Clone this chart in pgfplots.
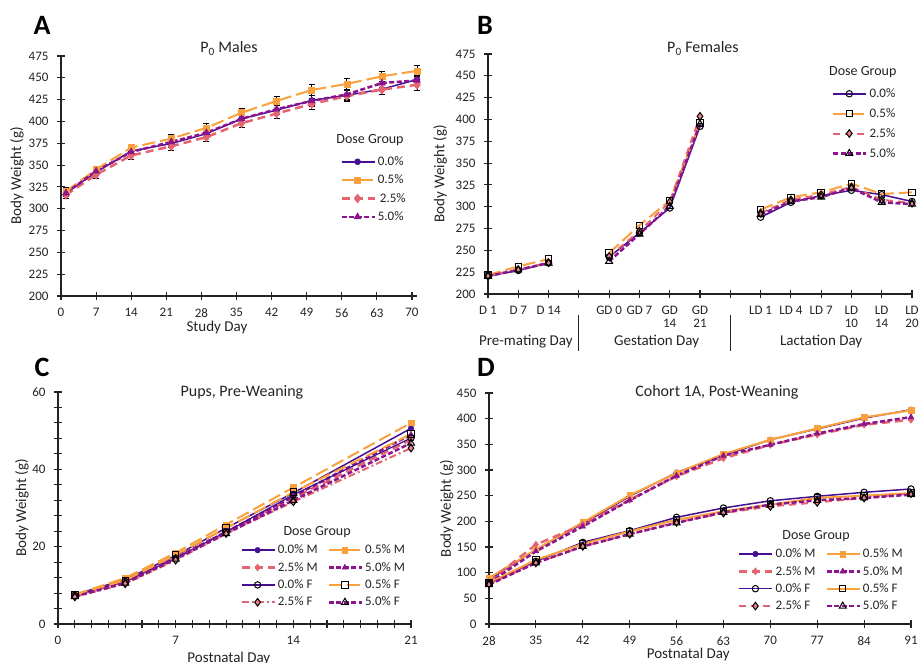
\documentclass[border=0pt]{standalone}
\usepackage{fontspec}
\setmainfont{Carlito}
\usepackage{pgfplots}
\usepackage{pgfplotstable}
\pgfplotsset{compat=1.18}

\definecolor{c0}{RGB}{70,15,145}
\definecolor{c1}{RGB}{250,160,60}
\definecolor{c2}{RGB}{228,100,112}
\definecolor{c3}{RGB}{140,20,140}
\definecolor{ax}{RGB}{35,35,35}

\pgfplotstableread{
x y0 e0 y1 e1 y2 e2 y3 e3
1 318 4 320 4 316 4 318 4
7 342 4 345 4 339 4 343 4
14 366 4 370 4 361 4 365 4
22 374.7 5 380.4 5 371.6 5 376.6 5
29 386 5 392.6 5 382 5 387 5
36 403 5 410 5 398 5 403 5
43 413 5 423.5 5 409 5 414 5
50 424 6 436 6 420 6 423.5 6
57 430 6 443 6 429 6 431 6
64 437 6 451.7 6 436.5 6 444 6
71 448 6 458 6 442 6 447 6
}\tabA

\pgfplotstableread{
x y0 y1 y2 y3
0 220.5 221.7 221 220.5
1 227 231.7 228 227.5
2 235.5 240 236 235.5
3 nan nan nan nan
4 242.4 247 243 237.4
5 270 278.7 272 268.7
6 298.5 307 305.4 300.4
7 392 396 403.6 394.8
8 nan nan nan nan
9 288 296.6 292.8 291
10 305 310.8 308 306
11 312.7 316.5 313.8 311
12 318.8 326.4 322.6 321.4
13 313.8 314.6 308 305
14 306 316.5 304 303
}\tabB

\pgfplotstableread{
x m0 m1 m2 m3 f0 f1 f2 f3
1 7.6 7.6 7.3 7.4 7.4 7.5 7.0 7.1
4 11.5 11.9 11.0 11.0 11.0 11.3 10.4 10.6
7 17.7 18.4 17.1 17.1 17.0 17.9 16.5 16.8
10 24.8 25.7 23.8 23.8 23.8 24.8 23.4 23.4
14 33.9 35.3 32.6 33.0 33.4 34.1 31.6 32.0
21 50.6 52.0 47.7 49.0 48.1 49.1 45.5 46.8
}\tabC

\pgfplotstableread{
x m0 m1 m2 m3 f0 f1 f2 f3
28 86 89.6 83 80 80 80 78 76.6
35 145 144.8 154.5 141.6 122 125 119 119
42 195 198 193.5 190 159 156 151 151
49 248.7 250.6 242 241 181.8 180.5 175 175
56 295 294 287.7 289 207.8 203 198 197
63 328 331 323 328 226 219.5 216 217.5
70 359 359 349 349 240 232.5 229 232.5
77 380 381 369 371 248.7 245.5 237 241
84 401 402.6 388 389.6 256.5 250 245.5 245.5
91 417.5 416 398 403 263 255 254 252
}\tabD

\newcommand{\fs}[1]{\fontsize{#1}{#1}\selectfont}

\pgfplotsset{
  base/.style={
    scale only axis, anchor=south west, clip=false,
    axis lines=left, axis line style={-, line width=1.1pt, ax},
    tick align=center, major tick length=8pt, minor tick length=8pt,
    every tick/.style={ax, line width=1.1pt},
    tick label style={font=\fs{13}, text=ax},
    /pgf/number format/assume math mode=true,
    xticklabel style={yshift=-5pt}, yticklabel style={xshift=-5pt},
    label style={font=\fs{15}, text=ax},
    legend cell align=left,
    legend style={draw=none, fill=none, font=\fs{13}, text=ax, anchor=north west, inner sep=0pt, row sep=4pt},
    legend image code/.code={\draw[mark repeat=2,mark phase=2] plot coordinates {(0pt,0pt)(16pt,0pt)(33pt,0pt)};},
  },
  s0/.style={color=c0, line width=1.5pt, solid, mark=*, mark size=3pt, mark options={solid, fill=c0, line width=0.5pt}},
  s1/.style={color=c1, line width=2pt, dash pattern=on 13pt off 5pt, mark=square*, mark size=3pt, mark options={solid, fill=c1, line width=0.5pt}},
  s2/.style={color=c2, line width=2.5pt, dash pattern=on 8pt off 5pt, mark=diamond*, mark size=4.5pt, mark options={solid, fill=c2, line width=0.5pt}},
  s3/.style={color=c3, line width=2.5pt, dash pattern=on 5pt off 2.5pt, mark=triangle*, mark size=4pt, mark options={solid, fill=c3, line width=0.5pt}},
  o0/.style={color=c0, line width=1.5pt, solid, mark=o, mark size=3.2pt, mark options={solid, draw=black, fill=white, line width=1pt}},
  o1/.style={color=c1, line width=2pt, dash pattern=on 13pt off 5pt, mark=square, mark size=3.2pt, mark options={solid, draw=black, fill=white, line width=1pt}},
  o2/.style={color=c2, line width=2pt, dash pattern=on 7pt off 5pt, mark=diamond*, mark size=3.8pt, mark options={solid, draw=black, fill=c2!80, line width=1pt}},
  o3/.style={color=c3, line width=2.5pt, dash pattern=on 5pt off 2.5pt, mark=triangle, mark size=4pt, mark options={solid, draw=black, fill=white, line width=1pt}},
  eb/.style={error bars/.cd, y dir=both, y explicit, error bar style={black, line width=0.9pt, solid}, error mark options={rotate=90, mark size=3pt, black, line width=0.9pt, solid}},
}

\begin{document}
\begin{tikzpicture}
\useasboundingbox (0pt,0pt) rectangle (919pt,663pt);

% ---------- A ----------
\begin{axis}[base, at={(61pt,367pt)}, width=356pt, height=240pt,
  xmin=0, xmax=71, ymin=200, ymax=475,
  xtick={0,7,...,70}, ytick={200,225,...,475},
  xlabel={Study Day}, ylabel={Body Weight (g)},
  xlabel style={at={(rel axis cs:0.438,-0.13)}, anchor=center},
  ylabel style={at={(rel axis cs:-0.124,0.5)}, anchor=center},
  legend style={at={(rel axis cs:0.784,0.59)}}]
\addplot[s0, eb] table[x=x, y=y0, y error=e0] {\tabA};
\addlegendentry{0.0\%}
\addplot[s1, eb] table[x=x, y=y1, y error=e1] {\tabA};
\addlegendentry{0.5\%}
\addplot[s2, eb] table[x=x, y=y2, y error=e2] {\tabA};
\addlegendentry{\,2.5\%}
\addplot[s3, eb] table[x=x, y=y3, y error=e3] {\tabA};
\addlegendentry{5.0\%}
\node[font=\fs{16}, text=ax, anchor=base] at ([yshift=3pt]rel axis cs:0.472,1) {P\textsubscript{0} Males};
\node[font=\fs{14}, text=ax] at (rel axis cs:0.868,0.65) {Dose Group};
\end{axis}

% ---------- B ----------
\begin{axis}[base, at={(488pt,369pt)}, width=424pt, height=240pt,
  xmin=0, xmax=14, ymin=200, ymax=475,
  xtick={0,...,14}, ytick={200,225,...,475},
  xticklabels={D 1, D 7, D 14, {}, GD 0, GD 7, {GD\\14}, {GD\\21}, {}, LD 1, LD 4, LD 7, {LD\\10}, {LD\\14}, {LD\\20}},
  xticklabel style={align=center, anchor=north},
  unbounded coords=jump,
  ylabel={Body Weight (g)},
  ylabel style={at={(rel axis cs:-0.113,0.5)}, anchor=center},
  legend style={at={(rel axis cs:0.811,0.865)}, row sep=5.5pt}]
\addplot[o0] table[x=x, y=y0] {\tabB};
\addlegendentry{0.0\%}
\addplot[o1] table[x=x, y=y1] {\tabB};
\addlegendentry{0.5\%}
\addplot[o2] table[x=x, y=y2] {\tabB};
\addlegendentry{2.5\%}
\addplot[o3] table[x=x, y=y3] {\tabB};
\addlegendentry{5.0\%}
\node[font=\fs{16}, text=ax, anchor=base] at ([yshift=1pt]rel axis cs:0.507,1) {P\textsubscript{0} Females};
\node[font=\fs{14}, text=ax] at (rel axis cs:0.884,0.925) {Dose Group};
\draw[ax, line width=1.1pt] ([yshift=-21pt]axis cs:3,200) -- ([yshift=-57pt]axis cs:3,200);
\draw[ax, line width=1.1pt] ([yshift=-21pt]axis cs:8,200) -- ([yshift=-57pt]axis cs:8,200);
\node[font=\fs{15}, text=ax, anchor=base] at ([yshift=-52pt]axis cs:1.25,200) {Pre-mating Day};
\node[font=\fs{15}, text=ax, anchor=base] at ([yshift=-52pt]axis cs:5.57,200) {Gestation Day};
\node[font=\fs{15}, text=ax, anchor=base] at ([yshift=-52pt]axis cs:11.0,200) {Lactation Day};
\end{axis}

% ---------- C ----------
\begin{axis}[base, at={(58pt,39pt)}, width=353pt, height=232pt,
  xmin=0, xmax=21, ymin=0, ymax=60,
  xtick={0,7,14,21}, ytick={0,20,40,60},
  minor x tick num=6, minor y tick num=4,
  xlabel={Postnatal Day}, ylabel={Body Weight (g)},
  xlabel style={at={(rel axis cs:0.484,-0.147)}, anchor=center},
  ylabel style={at={(rel axis cs:-0.102,0.5)}, anchor=center},
  legend columns=2,
  legend style={at={(rel axis cs:0.516,0.35)}, row sep=3pt, /tikz/every even column/.append style={column sep=8pt}}]
\addplot[s0, mark size=2.8pt] table[x=x, y=m0] {\tabC};
\addlegendentry{0.0\% M}
\addplot[s1, mark size=2.8pt] table[x=x, y=m1] {\tabC};
\addlegendentry{0.5\% M}
\addplot[s2, mark size=3.5pt] table[x=x, y=m2] {\tabC};
\addlegendentry{2.5\% M}
\addplot[s3, mark size=3.3pt] table[x=x, y=m3] {\tabC};
\addlegendentry{5.0\% M}
\addplot[o0, line width=1.2pt] table[x=x, y=f0] {\tabC};
\addlegendentry{0.0\% F}
\addplot[o1] table[x=x, y=f1] {\tabC};
\addlegendentry{0.5\% F}
\addplot[o2, dash pattern=on 7pt off 3pt on 2pt off 3pt] table[x=x, y=f2] {\tabC};
\addlegendentry{2.5\% F}
\addplot[o3] table[x=x, y=f3] {\tabC};
\addlegendentry{5.0\% F}
\node[font=\fs{16}, text=ax, anchor=base] at ([yshift=-5pt]rel axis cs:0.521,1) {Pups, Pre-Weaning};
\node[font=\fs{14}, text=ax] at (rel axis cs:0.734,0.397) {Dose Group};
\end{axis}

% ---------- D ----------
\begin{axis}[base, at={(489pt,39pt)}, width=422pt, height=231pt,
  xmin=28, xmax=91, ymin=0, ymax=450,
  xtick={28,35,...,91}, ytick={0,50,...,450},
  xlabel={Postnatal Day}, ylabel={Body Weight (g)},
  xlabel style={at={(rel axis cs:0.472,-0.134)}, anchor=center},
  ylabel style={at={(rel axis cs:-0.1,0.5)}, anchor=center},
  legend columns=2,
  legend style={at={(rel axis cs:0.59,0.335)}, row sep=3pt, /tikz/every even column/.append style={column sep=8pt}}]
\addplot[s0, mark size=2.8pt] table[x=x, y=m0] {\tabD};
\addlegendentry{0.0\% M}
\addplot[s1, solid, mark size=2.8pt] table[x=x, y=m1] {\tabD};
\addlegendentry{0.5\% M}
\addplot[s2, mark size=3.5pt] table[x=x, y=m2] {\tabD};
\addlegendentry{2.5\% M}
\addplot[s3, mark size=3.3pt] table[x=x, y=m3] {\tabD};
\addlegendentry{5.0\% M}
\addplot[o0] table[x=x, y=f0] {\tabD};
\addlegendentry{0.0\% F}
\addplot[o1, solid] table[x=x, y=f1] {\tabD};
\addlegendentry{0.5\% F}
\addplot[o2] table[x=x, y=f2] {\tabD};
\addlegendentry{2.5\% F}
\addplot[o3] table[x=x, y=f3] {\tabD};
\addlegendentry{5.0\% F}
\node[font=\fs{16}, text=ax, anchor=base] at ([yshift=-4pt]rel axis cs:0.54,1) {Cohort 1A, Post-Weaning};
\node[font=\fs{14}, text=ax] at (rel axis cs:0.775,0.381) {Dose Group};
\end{axis}

% panel letters
\node[font=\bfseries\fs{28}, anchor=base] at (42pt,628pt) {A};
\node[font=\bfseries\fs{28}, anchor=base] at (485pt,628pt) {B};
\node[font=\bfseries\fs{28}, anchor=base] at (42pt,286pt) {C};
\node[font=\bfseries\fs{28}, anchor=base] at (486pt,286pt) {D};
\end{tikzpicture}
\end{document}
